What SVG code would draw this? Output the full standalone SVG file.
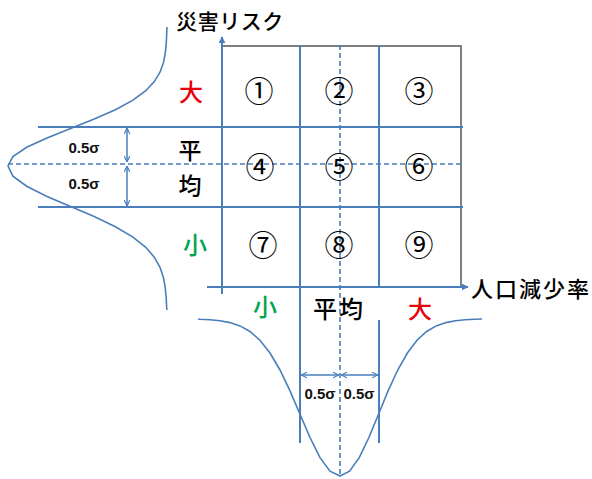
<svg xmlns="http://www.w3.org/2000/svg" width="592" height="479" viewBox="0 0 592 479">
<style>
.ln{stroke:#4a7ebb;stroke-width:2;fill:none}
.dash{stroke:#4a7ebb;stroke-width:1.6;fill:none;stroke-dasharray:5 3}
.crv{stroke:#4a7ebb;stroke-width:1.6;fill:none}
.gray{stroke:#555;stroke-width:1.5;fill:none}
.dim{stroke:#4a7ebb;stroke-width:1.5;fill:none;marker-start:url(#chev);marker-end:url(#chev)}
.jp{font-family:"Noto Sans CJK JP","Noto Sans",sans-serif;font-weight:500;dominant-baseline:central;text-anchor:middle}
.num{font-family:"Noto Sans CJK JP",sans-serif;font-size:29px;fill:#000;dominant-baseline:central;text-anchor:middle}
.sig{font-family:"Liberation Sans",Arial,sans-serif;font-weight:bold;font-size:15px;fill:#111;dominant-baseline:central;text-anchor:middle}
.red{fill:#e8000b}
.grn{fill:#00a550}
</style>
<defs>
<marker id="tri" viewBox="0 0 10 10" refX="9" refY="5" markerWidth="7" markerHeight="7" markerUnits="userSpaceOnUse" orient="auto">
<path d="M0,0 L10,5 L0,10 z" fill="#4a7ebb"/>
</marker>
<marker id="chev" viewBox="0 0 10 10" refX="9.5" refY="5" markerWidth="7" markerHeight="7" markerUnits="userSpaceOnUse" orient="auto-start-reverse">
<path d="M1,1 L9.5,5 L1,9" fill="none" stroke="#4a7ebb" stroke-width="1.6"/>
</marker>
</defs>

<g id="curves">
<path id="left-curve" class="crv" d="M167,27 L166.65,34.75 L166.2,44.1 L165.2,53.5 L163.4,62.9 L160,72.25 L154.3,81.6 L145.5,91 L132.6,100.4 L115.4,109.75 L94.2,119.1 L70.6,128.5 L47,137.9 L26.7,147.25 L12.9,156.6 L8,166 L12.9,176.1 L26.7,186.25 L47,196.4 L70.6,206.5 L94.2,216.6 L115.4,226.75 L132.6,236.9 L145.5,247 L154.3,257.1 L160,267.25 L163.4,277.4 L165.2,287.5 L166.2,297.6 L166.65,307.75 L167,310"/>
<path id="bottom-curve" class="crv" d="M198,319 L200,319.3 L210,319.8 L220,320.7 L230,322.6 L240,325.9 L250,331.5 L260,340.2 L270,353 L280,370 L290,390.9 L300,414.2 L310,437.5 L320,457.6 L330,471.2 L340,476 L349.6,471.2 L359.25,457.6 L368.9,437.5 L378.5,414.2 L388.1,390.9 L397.75,370 L407.4,353 L417,340.2 L426.6,331.5 L436.25,325.9 L445.9,322.6 L455.5,320.7 L465.1,319.8 L474.75,319.3 L482,319"/>
</g>

<g id="connectors">
<path class="gray" d="M222,46 L461,46 L461,287"/>
<line class="ln" x1="38" y1="127" x2="463" y2="127"/>
<line class="ln" x1="38" y1="207" x2="463" y2="207"/>
<line class="dash" x1="8" y1="164" x2="462" y2="164"/>
<line class="ln" x1="300" y1="45" x2="300" y2="443"/>
<line class="ln" x1="379" y1="45" x2="379" y2="287"/>
<line class="ln" x1="379" y1="320" x2="379" y2="443"/>
<line class="dash" x1="340" y1="45" x2="340" y2="476"/>
<line id="y-axis" class="ln" x1="222" y1="294" x2="222" y2="37" marker-end="url(#tri)"/>
<line id="x-axis" class="ln" x1="207" y1="287" x2="468" y2="287" marker-end="url(#tri)"/>
<line class="dim" x1="127" y1="128" x2="127" y2="162"/>
<line class="dim" x1="127" y1="166" x2="127" y2="206"/>
<line class="dim" x1="301" y1="375" x2="339" y2="375"/>
<line class="dim" x1="341" y1="375" x2="378" y2="375"/>
</g>

<g id="axis-titles">
<text id="t-risk" class="jp" x="230" y="20" font-size="21" letter-spacing="0.5">災害リスク</text>
<text id="t-pop" class="jp" x="531" y="287" font-size="22" letter-spacing="2">人口減少率</text>
</g>

<g id="y-labels">
<text class="jp red" x="191" y="90" font-size="24">大</text>
<text class="jp" x="190" y="149" font-size="23">平</text>
<text class="jp" x="190" y="184" font-size="23">均</text>
<text class="jp grn" x="195" y="243" font-size="24">小</text>
</g>

<g id="x-labels">
<text class="jp grn" x="265" y="305" font-size="24">小</text>
<text class="jp" x="339" y="307" font-size="24" letter-spacing="2">平均</text>
<text class="jp red" x="420" y="307" font-size="24">大</text>
</g>

<g id="cells">
<g id="c1"><text class="num" x="259" y="89">①</text></g>
<g id="c2"><text class="num" x="339" y="89">②</text></g>
<g id="c3"><text class="num" x="419" y="89">③</text></g>
<g id="c4"><text class="num" x="260" y="165">④</text></g>
<g id="c5"><text class="num" x="339" y="165">⑤</text></g>
<g id="c6"><text class="num" x="419" y="165">⑥</text></g>
<g id="c7"><text class="num" x="263" y="243">⑦</text></g>
<g id="c8"><text class="num" x="339" y="243">⑧</text></g>
<g id="c9"><text class="num" x="419" y="243">⑨</text></g>
</g>

<g id="sigma-labels">
<text class="sig" x="84" y="147">0.5σ</text>
<text class="sig" x="84" y="183">0.5σ</text>
<text class="sig" x="320" y="393">0.5σ</text>
<text class="sig" x="359" y="393">0.5σ</text>
</g>
</svg>
